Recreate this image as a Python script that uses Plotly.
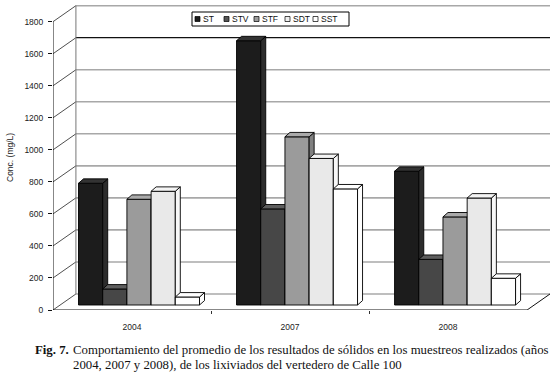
import plotly.graph_objects as go

# ---------------- data ----------------
years = ["2004", "2007", "2008"]
series_names = ["ST", "STV", "STF", "SDT", "SST"]
ST = [760, 1650, 835]
STV = [100, 600, 285]
STF = [660, 1050, 550]
SDT = [710, 915, 668]
SST = [50, 725, 167]
y_ticks = [0, 200, 400, 600, 800, 1000, 1200, 1400, 1600, 1800]

# ---------------- styling / geometry ----------------
W, H = 550, 373
ML, MR, MT, MB = 53, 0, 4, 63
PLOT_W = W - ML - MR
PLOT_H = H - MT - MB
X0, X1 = -0.5, 2.645
PX_PER_X = PLOT_W / (X1 - X0)
PX_PER_Y = (310 - 21.7) / 1800.0
Y1 = PLOT_H / PX_PER_Y

WALL_DX = 0.145          # depth of the walls, x units
WALL_DY = 100            # depth of the walls, y units
BAR_W = 24.2 / PX_PER_X
BAR_DX0 = 7 / PX_PER_X   # bar row shifted into depth
BAR_BASE = 5 / PX_PER_Y
BAR_DDX = 5 / PX_PER_X
BAR_DDY = 4.4 / PX_PER_Y

front_colors = ["#1c1c1c", "#474747", "#9b9b9b", "#e9e9e9", "#ffffff"]
side_colors = ["#2c2c2c", "#3a3a3a", "#808080", "#f7f7f7", "#ffffff"]
top_colors = ["#333333", "#5e5e5e", "#aaaaaa", "#f4f4f4", "#ffffff"]
legend_colors = ["#1c1c1c", "#555555", "#9b9b9b", "#eeeeee", "#ffffff"]

values = [ST, STV, STF, SDT, SST]

fig = go.Figure()

# ---------------- walls (frame) ----------------
shapes = []
grid_col = "#a8a8a8"
bx0, bx1 = X0 + WALL_DX, X1
for v in y_ticks:
    col = "#111111" if v == 1600 else grid_col
    shapes.append(dict(type="line", xref="x", yref="y", x0=bx0, x1=bx1,
                       y0=v + WALL_DY, y1=v + WALL_DY,
                       line=dict(color=col, width=1.6 if v != 1600 else 1.2), layer="below"))
    shapes.append(dict(type="line", xref="x", yref="y", x0=X0, x1=bx0,
                       y0=v, y1=v + WALL_DY,
                       line=dict(color="#222222", width=0.8), layer="below"))
shapes.append(dict(type="line", xref="x", yref="y", x0=bx0, x1=bx0, y0=WALL_DY,
                   y1=1800 + WALL_DY, line=dict(color="#777777", width=1), layer="below"))
shapes.append(dict(type="line", xref="x", yref="y", x0=X0, x1=X0, y0=0, y1=1800,
                   line=dict(color="#111111", width=1), layer="below"))
shapes.append(dict(type="line", xref="x", yref="y", x0=X0, x1=2.5, y0=0, y1=0,
                   line=dict(color="#111111", width=1), layer="below"))
shapes.append(dict(type="line", xref="x", yref="y", x0=2.5, x1=X1, y0=0, y1=WALL_DY,
                   line=dict(color="#111111", width=1), layer="below"))

# ---------------- bars (3D faces from data) ----------------
n = len(series_names)
for k, (name, vals) in enumerate(zip(series_names, values)):
    fx, fy, sx, sy, tx, ty = [], [], [], [], [], []
    for c, v in enumerate(vals):
        xl = c + BAR_DX0 - n / 2 * BAR_W + k * BAR_W
        xr = xl + BAR_W
        b = BAR_BASE
        t = b + v
        fx += [xl, xl, xr, xr, xl, None]
        fy += [b, t, t, b, b, None]
        sx += [xr, xr, xr + BAR_DDX, xr + BAR_DDX, xr, None]
        sy += [b, t, t + BAR_DDY, b + BAR_DDY, b, None]
        tx += [xl, xl + BAR_DDX, xr + BAR_DDX, xr, xl, None]
        ty += [t, t + BAR_DDY, t + BAR_DDY, t, t, None]
    for px_, py_, col in ((fx, fy, front_colors[k]), (sx, sy, side_colors[k]), (tx, ty, top_colors[k])):
        fig.add_trace(go.Scatter(x=px_, y=py_, mode="lines", fill="toself", fillcolor=col,
                                 line=dict(color="#000000", width=0.9), name=name,
                                 showlegend=False, hoverinfo="skip"))

# ---------------- legend (manual) ----------------
def px2paper_x(px):
    return (px - ML) / PLOT_W

def px2paper_y(py):
    return (H - MB - py) / PLOT_H

shapes.append(dict(type="rect", xref="paper", yref="paper",
                   x0=px2paper_x(192), x1=px2paper_x(349), y0=px2paper_y(26), y1=px2paper_y(12),
                   line=dict(color="#000000", width=1), fillcolor="#ffffff"))
leg_x = [195, 224, 254, 285, 313]
annotations = []
for k, name in enumerate(series_names):
    shapes.append(dict(type="rect", xref="paper", yref="paper",
                       x0=px2paper_x(leg_x[k]), x1=px2paper_x(leg_x[k] + 5),
                       y0=px2paper_y(21.5), y1=px2paper_y(16.5),
                       line=dict(color="#000000", width=0.7), fillcolor=legend_colors[k]))
    annotations.append(dict(xref="paper", yref="paper", x=px2paper_x(leg_x[k] + 6),
                            y=px2paper_y(19), text=name, showarrow=False, xanchor="left",
                            yanchor="middle", font=dict(family="Liberation Sans, Arial", size=8.5,
                                                        color="#111111")))

annotations.append(dict(xref="paper", yref="paper", x=px2paper_x(10), y=px2paper_y(158),
                        text="Conc. (mg/L)", textangle=-90, showarrow=False,
                        xanchor="center", yanchor="middle",
                        font=dict(family="Liberation Sans, Arial", size=8.5, color="#222222")))

cap_font = dict(family="Liberation Serif, Times New Roman", size=12.8, color="#111111")
annotations.append(dict(xref="paper", yref="paper", x=px2paper_x(33), y=px2paper_y(350),
                        text="<b>Fig. 7.</b>", showarrow=False, xanchor="left", yanchor="middle",
                        font=cap_font))
annotations.append(dict(xref="paper", yref="paper", x=px2paper_x(71), y=px2paper_y(350),
                        text="Comportamiento del promedio de los resultados de sólidos en los muestreos realizados (años",
                        showarrow=False, xanchor="left", yanchor="middle", font=cap_font))
annotations.append(dict(xref="paper", yref="paper", x=px2paper_x(71), y=px2paper_y(364.5),
                        text="2004, 2007 y 2008), de los lixiviados del vertedero de Calle 100",
                        showarrow=False, xanchor="left", yanchor="middle", font=cap_font))

fig.update_layout(
    width=W, height=H,
    margin=dict(l=ML, r=MR, t=MT, b=MB, pad=0, autoexpand=False),
    paper_bgcolor="#ffffff", plot_bgcolor="#ffffff",
    showlegend=False,
    shapes=shapes, annotations=annotations,
    xaxis=dict(range=[X0, X1], tickvals=[0, 1, 2], ticktext=years, ticks="",
               showgrid=False, zeroline=False, showline=False, ticklabelstandoff=10,
               automargin=False,
               tickfont=dict(family="Liberation Sans, Arial", size=8.5, color="#222222"),
               minor=dict(tickvals=[0.5, 1.5], ticks="outside", ticklen=3,
                          tickcolor="#333333", tickwidth=1, showgrid=False),
               fixedrange=True),
    yaxis=dict(range=[0, Y1], tickvals=y_ticks, ticks="outside", ticklen=4,
               tickcolor="#111111", tickwidth=1, showgrid=False, zeroline=False,
               showline=False, ticklabelstandoff=3, automargin=False,
               tickfont=dict(family="Liberation Sans, Arial", size=8.5, color="#222222"),
               fixedrange=True),
)

fig.write_html("out.html", config={"displayModeBar": False},
               post_script="document.body.style.margin='0';document.body.style.overflow='hidden';")
